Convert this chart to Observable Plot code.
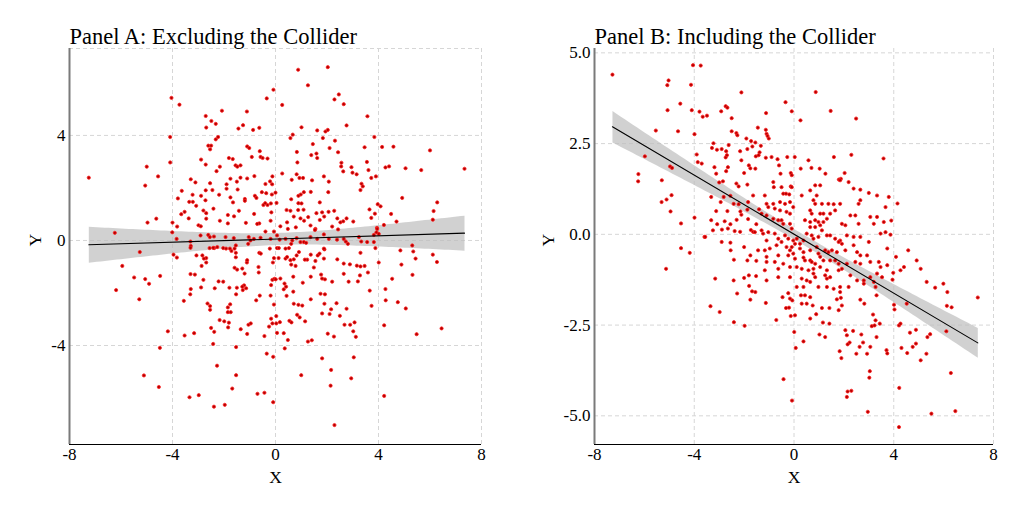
<!DOCTYPE html>
<html><head><meta charset="utf-8">
<script src="https://cdn.jsdelivr.net/npm/d3@7"></script>
<script src="https://cdn.jsdelivr.net/npm/@observablehq/plot@0.6"></script>
<style>
html,body{margin:0;padding:0;background:#fff;}
#wrap{display:flex;width:1024px;height:512px;overflow:hidden;}
</style></head><body><div id="wrap"></div>
<script>
const titleA = "Panel A: Excluding the Collider";
const titleB = "Panel B: Including the Collider";
const xLabel = "X";
const yLabel = "Y";
const xTicks = [-8, -4, 0, 4, 8];
const yTicksA = [-4, 0, 4];
const yTicksB = [-5, -2.5, 0, 2.5, 5];
const xDomain = [-8, 8];
const yDomainA = [-7.77, 7.31];
const yDomainB = [-5.79, 5.12];

const pointsA = [
[-7.25,2.39],[-4.04,5.43],[-3.73,5.17],[-4.09,3.94],[-4.09,2.97],[-5.0,2.81],[-4.56,2.44],[-5.06,2.09],[-4.97,0.68],[-4.63,0.83],
[-4.0,0.68],[-3.82,0.53],[-3.79,1.6],[-3.53,1.09],[-3.66,1.0],[-3.64,1.89],[-3.29,2.33],[-3.11,2.21],[-3.35,1.47],[-3.21,1.47],
[-3.08,1.32],[-3.22,1.74],[-2.89,3.08],[-2.71,2.89],[-2.71,4.74],[-2.49,4.55],[-2.32,4.44],[-2.69,4.30],[-2.08,4.94],[-2.23,3.94],
[-2.32,3.85],[-2.61,3.61],[-2.50,3.61],[-2.54,3.47],[-2.16,2.81],[-2.29,2.64],[-2.54,2.18],[-2.45,1.92],[-2.71,1.91],[-2.89,1.70],
[-2.72,1.53],[-2.80,1.14],[-2.69,1.04],[-2.41,1.21],[-2.16,0.75],[-2.99,0.58],[-2.90,0.54],[-2.69,0.83],[-1.81,3.14],[-1.66,3.10],
[-1.55,2.86],[-1.48,2.81],[-1.36,2.86],[-1.90,2.14],[-1.90,1.97],[-1.75,2.35],[-1.75,1.64],[-1.65,1.45],[-1.50,2.24],[-1.36,2.39],
[-1.47,1.94],[-1.19,1.58],[-1.19,1.51],[-1.85,0.97],[-1.61,0.92],[-1.85,0.65],[-1.42,1.13],[-1.15,0.67],[-1.11,4.91],[-1.44,4.26],
[-1.26,4.39],[-0.87,4.21],[-0.63,4.29],[-1.10,3.58],[-1.02,3.52],[-0.92,3.18],[-0.61,3.40],[-0.58,3.18],[-0.50,3.14],[-0.82,2.45],
[-0.80,1.70],[-0.74,1.62],[-0.53,1.84],[-0.36,1.80],[-0.47,1.35],[-0.31,1.35],[-0.14,1.75],[-0.18,1.41],[-0.21,2.25],[-0.12,2.44],
[-0.13,2.14],[-0.39,2.15],[-0.31,3.12],[-0.34,5.41],[-0.08,5.74],[-0.83,1.01],[-0.63,0.65],[-0.16,1.07],[-0.19,0.75],[-0.40,1.42],
[-1.10,2.36],[-2.19,1.74],[-3.37,0.84],[0,1.82],[0.04,1.43],[-6.24,0.29],
[0.26,5.16],[0.88,6.50],[2.03,6.60],[1.26,5.91],[2.46,5.56],[2.29,5.37],[2.65,5.19],[3.57,4.73],[1.01,4.31],[2.76,4.38],
[1.62,4.19],[1.94,4.15],[2.03,4.21],[1.84,3.90],[0.67,4.03],[0.58,3.90],[3.84,3.94],[2.31,3.80],[1.45,3.67],[2.10,3.52],
[3.46,3.55],[4.14,3.56],[4.58,3.57],[6.0,3.43],[0.83,3.37],[2.43,3.36],[1.59,3.31],[1.39,3.25],[1.62,3.14],[0.85,2.97],
[2.56,2.96],[2.55,2.82],[2.95,2.79],[3.55,2.99],[4.27,2.78],[4.41,2.82],[5.05,2.75],[5.66,2.68],[7.34,2.73],[2.63,2.63],
[2.99,2.58],[3.15,2.52],[3.61,2.68],[3.90,2.44],[3.72,2.38],[0.26,2.55],[0.82,2.52],[0.93,2.38],[1.07,2.38],[0.63,2.31],
[1.88,2.44],[2.07,2.24],[1.42,2.29],[3.34,2.16],[3.39,2.06],[3.30,1.92],[2.05,1.84],[1.10,1.84],[0.98,1.75],[0.89,1.70],
[1.37,1.85],[0.61,1.57],[0.89,1.42],[1.01,1.41],[1.72,1.45],[4.92,1.62],[6.28,1.45],[3.97,1.38],[4.08,1.30],[0.43,1.16],
[0.58,1.13],[0.88,1.16],[1.09,1.17],[1.59,1.04],[2.06,1.09],[2.28,1.13],[1.81,1.07],[3.65,1.18],[3.86,1.02],[4.49,1.01],
[6.14,1.12],[6.11,0.79],[4.70,0.72],[0.71,0.91],[0.97,0.84],[1.27,0.89],[1.11,0.75],[1.89,0.91],[1.72,0.78],[2.40,0.84],
[2.76,0.84],[2.52,0.69],[2.63,0.73],[0.45,0.69],[1.36,0.57],[1.55,0.44],[0.79,0.50],[3.94,0.48],[3.92,0.31],[2.20,0.53],
[-5.27,-0.44],[-5.95,-0.97],[-6.19,-1.89],[-5.49,-1.41],[-5.06,-1.47],[-4.91,-1.65],[-4.48,-1.35],[-5.29,-2.24],[-3.96,-0.54],[-3.83,-0.65],
[-3.29,-0.21],[-3.07,-0.57],[-2.84,-0.57],[-2.69,-0.67],[-2.69,-0.84],[-2.87,-0.97],[-3.30,-1.28],[-3.13,-1.30],[-2.80,-1.50],[-3.29,-1.85],
[-3.31,-2.05],[-2.89,-1.79],[-3.56,-2.30],[-2.64,-2.40],[-2.54,-2.50],[-2.54,-2.64],[-2.36,-1.82],[-2.03,-1.57],[-1.79,-1.80],[-1.76,-2.43],
[-1.85,-2.55],[-1.85,-2.73],[-1.74,-2.73],[-2.17,-3.03],[-1.99,-3.08],[-1.81,-3.13],[-1.84,-3.31],[-2.50,-3.33],[-2.38,-3.48],[-4.18,-3.46],
[-3.53,-3.62],[-3.16,-3.53],[-1.35,-3.38],[-1.10,-3.56],[-1.05,-3.21],[-0.96,-3.16],[-2.42,-3.94],[-1.53,-4.06],[-4.49,-4.09],[-2.27,-4.77],
[-1.53,-5.13],[-5.11,-5.14],[-4.53,-5.58],[-3.34,-5.97],[-2.98,-5.89],[-2.39,-6.33],[-1.97,-6.26],[-1.68,-5.64],[-0.70,-5.84],[-0.43,-5.80],
[-0.09,-6.16],[-0.34,-4.31],[-0.09,-4.43],[-0.43,-3.64],[-0.25,-3.28],[-0.12,-3.16],[0.03,-3.16],[0.06,-3.52],[0.03,-2.88],[-0.17,-2.98],
[-0.06,-2.44],[-0.19,-2.10],[-0.61,-2.10],[-0.75,-2.28],[-1.22,-1.71],[-1.27,-1.89],[-1.53,-2.05],[-1.50,-1.80],[-1.49,-1.11],[-1.29,-1.07],
[-1.20,-1.26],[-1.59,-1.04],[-1.11,-0.84],[-0.66,-1.01],[-0.65,-1.22],[-0.63,-0.47],[-0.10,-0.84],[-0.06,-0.67],[-0.12,-1.50],[-0.17,-1.70],
[-1.54,-0.64],[-1.54,-0.47],[-1.59,-0.31],[-1.92,-0.31],[-2.38,-0.29],[-2.56,-0.29],[-1.14,-1.82],[-1.29,-1.76],[-2.21,-1.56],[-1.10,-0.75],
[-0.57,-0.50],[-0.04,-1.46],[-1.71,-0.40],[-1.54,-0.19],[-1.06,-0.13],[-0.97,0.0],[-3.84,0.06],
[0.06,-0.29],[0.39,-0.31],[0.61,-0.13],[1.10,-0.06],[2.81,-0.13],[3.33,-0.04],[3.30,-0.47],[3.88,-0.29],[4.85,-0.38],[5.31,-0.19],
[5.35,-0.42],[5.44,-0.69],[6.11,-0.54],[6.27,-0.82],[4.01,-0.84],[4.89,-0.92],[5.32,-1.31],[4.53,-1.46],[3.66,-1.91],[4.27,-1.85],
[4.28,-2.28],[3.73,-2.49],[4.75,-2.35],[5.06,-2.59],[4.22,-3.23],[5.48,-3.57],[6.45,-3.35],[2.89,-0.91],[3.16,-0.96],[3.30,-0.99],
[3.46,-0.97],[3.59,-1.22],[3.28,-1.33],[2.65,-1.27],[2.84,-1.57],[3.20,-1.56],[2.40,-0.72],[1.90,-0.34],[1.64,-0.57],[1.37,-0.54],
[1.23,-0.73],[0.91,-0.44],[0.82,-0.57],[0.71,-0.72],[0.58,-0.75],[0.39,-0.69],[0.12,-0.67],[0.61,-0.92],[0.78,-0.97],[1.55,-0.78],
[1.49,-1.03],[1.88,-0.69],[1.37,-1.38],[1.77,-1.30],[1.92,-1.48],[2.20,-1.57],[0.01,-1.48],[0.19,-1.45],[0.35,-1.64],[0.41,-1.76],
[0.32,-1.86],[0.69,-1.38],[1.06,-1.61],[0.43,-2.11],[0.69,-1.95],[0.71,-2.41],[0.89,-2.45],[1.04,-2.48],[1.37,-2.24],[1.75,-2.03],
[1.92,-2.05],[1.90,-2.41],[2.37,-2.39],[1.81,-2.78],[2.10,-2.80],[2.16,-2.62],[2.50,-2.87],[2.76,-2.60],[0.84,-2.83],[0.94,-2.93],
[1.15,-3.08],[0.54,-3.06],[0.17,-3.11],[2.68,-3.21],[2.90,-3.21],[3.07,-3.12],[3.02,-3.46],[3.12,-3.67],[2.03,-3.55],[2.27,-3.66],
[0.32,-3.53],[0.48,-3.79],[0.36,-4.11],[1.26,-3.85],[1.41,-3.80],[1.81,-4.49],[3.04,-4.45],[2.16,-4.93],[1.00,-5.13],[2.94,-5.25],
[2.14,-5.53],[4.22,-5.92],[2.29,-7.03],[1.19,-0.09],[1.62,0.06],[2.73,-0.04],[1.71,-0.50],[1.14,-0.73],[1.81,-1.45],[0.62,-3.12],
[-4.01,0.31],[-3.30,-0.04],[-2.91,0.19],[-2.61,0.21],[-2.55,0.13],[-2.39,0.15],[-1.94,0.13],[-1.62,0.09],[-1.04,0.13],[-0.84,0.06],
[-0.58,0.10],[-0.39,0.34],[-0.19,0.06],[-0.06,0.34],[0.06,0.19],[0.16,0.03],[0.39,0.06],[0.65,0.0],[0.82,0.09],[0.97,-0.06],
[1.36,0.13],[1.88,0.23],[2.07,0.06],[2.39,0.03],[2.65,0.06],[3.24,0.13],[3.56,-0.06],[3.82,0.21],[3.82,-0.06],[4.01,0.25],
[-3.30,-0.28],[-2.42,-0.28],[-2.26,-0.25],[-2.03,-0.29],[-1.77,-0.31],[-0.22,-0.31],[0.13,-0.29],[0.52,-0.29],[1.88,-0.31],
[0.48,0.44],[0.19,0.54],[1.53,0.40],[2.43,0.42],[3.95,0.44],[4.21,0.59],[3.72,0.86],[3.02,0.72],[-0.71,0.63],
[-2.78,-0.69],[0.45,-0.63],[2.65,-0.88]
];

const pointsB = [
[-7.28,4.40],[-4.05,4.66],[-3.74,4.65],[-5.03,4.24],[-5.08,4.11],[-4.13,4.12],[-2.11,3.91],[-4.56,3.60],[-5.07,3.42],[-4.10,3.42],
[-3.79,3.38],[-3.66,3.24],[-3.49,3.27],[-2.92,3.39],[-2.74,3.53],[-2.67,3.49],[-2.50,3.20],[-1.12,3.34],[-0.34,3.64],[-0.09,3.39],
[-5.54,2.86],[-4.65,2.84],[-3.99,2.76],[-2.50,2.84],[-2.31,2.79],[-2.27,2.73],[-1.45,2.94],[-1.13,2.88],[-1.10,2.77],[-1.06,2.71],
[-1.01,2.64],[-1.91,2.64],[-1.72,2.57],[-1.55,2.53],[-1.67,2.42],[-1.33,2.44],[-3.29,2.38],[-3.23,2.51],[-3.09,2.33],[-2.90,2.35],
[-2.72,2.29],[-2.62,2.46],[-2.16,2.29],[-1.87,2.35],[-1.38,2.26],[-5.98,2.15],[-3.90,2.20],[-3.86,1.99],[-3.70,1.95],[-2.74,2.12],
[-2.69,2.18],[-3.19,1.85],[-3.12,1.67],[-2.65,1.85],[-2.72,1.74],[-2.11,2.04],[-1.81,1.90],[-1.53,2.15],[-1.42,2.18],[-1.75,1.82],
[-1.55,1.81],[-2.00,1.69],[-1.13,2.11],[-0.90,2.13],[-0.66,2.07],[-0.60,1.90],[-0.54,1.67],[-0.27,2.13],[0.03,2.13],[-0.13,1.69],
[-0.09,1.63],[-4.97,1.87],[-4.89,1.83],[-6.24,1.66],[-6.25,1.46],[-5.30,1.49],[-2.85,1.46],[-3.00,1.43],[-2.31,1.40],[-2.22,1.32],
[-1.87,1.37],[-4.91,1.08],[-5.11,0.96],[-5.31,0.89],[-3.32,1.03],[-2.82,1.03],[-2.55,1.06],[-2.94,0.89],[-2.42,0.84],[-2.22,0.83],
[-1.84,0.89],[-1.64,1.07],[-4.95,0.63],[-3.12,0.64],[-2.67,0.64],[-2.15,0.63],[-1.87,0.68],[-1.40,0.69],[-2.11,0.54],[-4.53,0.30],
[-3.99,0.46],[-3.32,0.39],[-3.08,0.28],[-2.78,0.36],[-2.55,0.28],[-2.30,0.40],[-1.84,0.42],[-1.51,0.28],[-3.25,0.11],[-2.89,0.13],
[-2.65,0.16],[-2.38,0.09],[-2.16,0.07],[-1.73,0.12],[-3.59,-0.07],[-1.64,0.07],[-1.57,0.06],
[0.87,3.92],[0.26,3.14],[1.47,3.40],[2.49,3.19],[1.60,2.13],[2.30,2.19],[3.59,2.09],[0.58,2.04],[0.27,1.81],[0.70,1.83],
[1.03,1.81],[1.26,1.67],[2.03,1.69],[1.88,1.53],[1.80,1.51],[4.15,0.85],[3.90,0.38],[3.87,-0.01],
[-5.13,-0.95],[-4.53,-0.38],[-4.18,-0.51],[-3.56,-0.07],[-2.90,-0.21],[-2.55,-0.23],[-2.54,-0.44],[-2.41,-0.70],[-2.00,-0.35],[-1.75,-0.58],
[-1.87,-0.72],[-1.51,-0.73],[-1.44,-0.44],[-3.16,-1.22],[-2.42,-1.27],[-2.00,-1.20],[-1.81,-1.13],[-1.52,-1.15],[-1.80,-1.42],[-1.68,-1.57],
[-1.55,-1.59],[-2.28,-1.63],[-1.75,-1.80],[-1.13,-1.89],[-0.46,-1.73],[-0.23,-1.62],[-0.07,-1.82],[-0.32,-2.03],[-0.20,-2.02],[-0.13,-2.25],
[-3.35,-1.98],[-2.98,-2.14],[-2.41,-2.42],[-1.98,-2.52],[-0.71,-2.36],[0.01,-2.69],[0.07,-3.13],[-0.42,-3.99],[-0.08,-4.58],
[-0.16,-1.77],[0.44,-1.68],[0.28,-1.68],[0.31,-1.91],[0.51,-1.91],[0.65,-1.73],[3.98,-1.06],[3.95,-1.25],[4.09,-0.62],[4.27,-0.99],
[4.41,-0.90],[4.58,-0.44],[4.92,-0.72],[5.08,-0.95],[5.32,-1.31],[5.66,-1.47],[5.99,-1.36],[6.15,-1.59],[6.13,-1.97],[6.32,-2.01],
[7.37,-1.74],[4.52,-1.91],[4.01,-1.94],[4.03,-2.07],[3.31,-1.68],[2.66,-1.80],[2.82,-1.91],[1.85,-1.59],[1.88,-1.75],[1.72,-1.79],
[1.92,-1.96],[1.79,-2.09],[1.42,-2.03],[1.12,-2.03],[0.75,-1.96],[0.89,-2.20],[0.65,-2.32],[0.04,-2.23],[1.16,-2.43],[1.42,-2.46],
[1.02,-2.76],[1.25,-2.83],[0.38,-2.95],[2.06,-2.64],[2.12,-2.78],[2.37,-2.66],[2.70,-2.76],[2.23,-2.98],[2.15,-3.03],[2.77,-2.98],
[2.63,-3.10],[3.06,-3.10],[2.50,-3.29],[2.93,-3.29],[1.83,-3.22],[1.90,-3.41],[3.17,-2.21],[3.12,-2.53],[3.23,-2.51],[3.27,-2.37],
[3.44,-2.46],[3.31,-2.83],[3.71,-3.19],[3.74,-3.28],[4.21,-2.51],[4.27,-2.46],[4.65,-2.71],[4.89,-2.63],[4.31,-3.13],[4.54,-3.27],
[4.76,-3.10],[4.89,-3.01],[5.08,-3.47],[5.31,-3.29],[5.35,-2.83],[5.46,-2.75],[6.11,-2.67],[6.29,-3.82],[3.04,-3.77],[3.02,-3.95],
[2.15,-4.33],[2.30,-4.31],[2.12,-4.48],[2.96,-4.89],[4.22,-4.23],[4.21,-5.31],[5.51,-4.94],[6.47,-4.87],
[-0.83,1.44],[-0.81,1.30],[-0.50,1.30],[-0.43,1.12],[-0.32,1.12],[-0.13,1.32],[-0.09,1.30],[-0.19,1.10],[0.31,1.07],[0.65,1.21],
[0.85,1.35],[1.05,1.35],[0.91,1.07],[1.85,1.49],[2.19,1.44],[2.39,1.26],[2.66,1.23],[3.00,1.14],[3.33,1.07],[3.80,1.03],
[-1.17,1.07],[-1.10,0.84],[-1.03,0.75],[-0.83,0.84],[-0.77,0.71],[-0.56,0.89],[-0.36,0.84],[-0.16,0.89],[-0.03,0.75],[-0.56,0.66],
[-0.30,0.62],[-0.16,0.57],[0.78,0.94],[0.85,0.84],[1.12,0.84],[1.38,0.84],[1.59,0.83],[0.65,0.66],[0.71,0.57],[1.05,0.57],
[1.18,0.57],[1.45,0.57],[1.65,0.66],[1.85,0.84],[2.59,0.84],[2.66,0.94],[3.06,0.48],[3.33,0.48],[3.67,0.75],
[-1.30,0.57],[-1.10,0.52],[-0.83,0.43],[-0.63,0.39],[-0.50,0.39],[-0.43,0.29],[-0.16,0.29],[-0.09,0.16],[0.44,0.39],[0.65,0.34],
[0.85,0.39],[0.98,0.34],[1.18,0.34],[1.32,0.43],[0.65,0.20],[0.85,0.20],[1.05,0.25],[1.12,0.11],[1.92,0.29],[2.06,0.25],
[2.26,0.52],[2.46,0.52],[2.59,0.29],[3.20,0.29],[3.60,0.34],[3.67,0.06],
[-1.30,0.11],[-1.24,0.02],[-1.03,0.06],[-1.10,-0.17],[-0.77,0.02],[-0.63,-0.12],[-0.36,-0.03],[-0.23,-0.12],[-0.50,-0.21],[-0.03,-0.17],
[0.11,-0.12],[0.04,-0.26],[0.24,-0.26],[0.38,-0.17],[0.51,0.02],[0.71,-0.03],[0.78,-0.12],[0.98,-0.07],[1.32,-0.03],[1.45,-0.03],
[1.65,-0.12],[1.85,-0.17],[1.92,-0.26],[1.79,-0.21],[2.12,-0.03],[2.39,-0.07],[2.66,-0.07],[3.00,-0.21],[3.47,0.02],[3.74,-0.39],
[-1.17,-0.44],[-0.97,-0.39],[-0.70,-0.30],[-0.30,-0.35],[-0.16,-0.44],[-0.09,-0.35],[-0.03,-0.53],[0.24,-0.39],[0.38,-0.49],[0.65,-0.44],
[0.91,-0.35],[0.98,-0.53],[1.25,-0.44],[1.38,-0.49],[1.52,-0.44],[1.72,-0.49],[2.06,-0.44],[2.39,-0.30],[2.53,-0.49],[2.66,-0.58],
[2.93,-0.58],[-1.10,-0.62],[-0.63,-0.58],[-0.23,-0.58],[0.04,-0.67],[0.38,-0.64],[0.44,-0.72],[0.65,-0.72],[0.71,-0.76],[0.85,-0.81],
[1.05,-0.62],[1.18,-0.72],[1.45,-0.72],[1.65,-0.72],
[-1.10,-0.76],[-0.77,-0.76],[-0.43,-0.81],[-1.17,-0.99],[-0.63,-0.95],[-0.16,-0.90],[0.11,-0.90],[0.31,-0.95],[0.58,-0.99],[0.78,-0.95],
[1.05,-0.90],[1.32,-0.99],[1.79,-0.81],[1.92,-0.95],[2.12,-0.81],[2.46,-0.76],[2.66,-0.81],[3.06,-0.76],[3.40,-0.76],[3.47,-0.90],
[3.74,-0.85],
[-1.10,-1.27],[-0.63,-1.18],[-0.16,-1.18],[0.31,-1.22],[0.51,-1.27],[0.78,-1.08],[0.85,-1.18],[1.25,-1.13],[1.32,-1.22],[1.45,-1.18],
[1.79,-0.99],[2.26,-1.13],[2.53,-1.27],[2.80,-1.27],[3.06,-1.18],[3.20,-1.31],[3.33,-1.08],[3.53,-1.18],[0.11,-1.45],[0.38,-1.45],
[0.65,-1.31],[0.98,-1.45],[1.32,-1.45],[1.59,-1.50],[1.85,-1.45],[2.19,-1.45],[2.80,-1.36],[3.27,-1.45]
];

const gridColor = "#d6d6d6";
const pointFill = "#b30000";
const pointStroke = "#ff1f1f";

function panel({points, title, yTicks, yDomain, yFmt, marginLeft, yLabelDx, topRule}) {
  const data = points.map(([x, y]) => ({x, y}));
  const marks = [
    Plot.gridX({ticks: xTicks, stroke: gridColor, strokeOpacity: 1, strokeDasharray: "4,3"}),
    Plot.gridY({ticks: yTicks, stroke: gridColor, strokeOpacity: 1, strokeDasharray: "4,3"}),
  ];
  if (topRule) marks.push(Plot.ruleY([yDomain[1]], {stroke: gridColor, strokeDasharray: "4,3"}));
  marks.push(
    Plot.linearRegressionY(data, {x: "x", y: "y", ci: 0.95, stroke: "none", fill: "#bdbdbd", fillOpacity: 0.7}),
    Plot.dot(data, {x: "x", y: "y", r: 1.6, fill: pointFill, stroke: pointStroke, strokeWidth: 0.8}),
    Plot.linearRegressionY(data, {x: "x", y: "y", ci: 0, stroke: "black", strokeWidth: 1.1}),
    Plot.ruleX([xDomain[0]], {stroke: "#7a7a7a", strokeWidth: 2}),
    Plot.ruleY([yDomain[0]], {stroke: "black", strokeWidth: 1.2}),
    Plot.axisX({ticks: xTicks, tickSize: 0, tickPadding: 3, tickFormat: d => String(d), label: null}),
    Plot.axisY({ticks: yTicks, tickSize: 0, tickPadding: 4, tickFormat: yFmt, label: null}),
    Plot.text([title], {text: d => d, frameAnchor: "top-left", textAnchor: "start", lineAnchor: "middle", dy: -12, fontSize: 22.5}),
    Plot.text([xLabel], {text: d => d, frameAnchor: "bottom", lineAnchor: "middle", dy: 33, fontSize: 17.5}),
    Plot.text([yLabel], {text: d => d, frameAnchor: "left", lineAnchor: "middle", dx: yLabelDx, rotate: -90, fontSize: 17.5})
  );
  return Plot.plot({
    width: 512, height: 512,
    marginLeft, marginRight: 31, marginTop: 48, marginBottom: 68,
    x: {domain: xDomain},
    y: {domain: yDomain},
    style: {fontFamily: "'Liberation Serif', 'Times New Roman', serif", fontSize: "17px", background: "white", color: "black", overflow: "visible"},
    marks
  });
}

const wrap = document.getElementById("wrap");
wrap.append(
  panel({points: pointsA, title: titleA, yTicks: yTicksA, yDomain: yDomainA, yFmt: d => String(d), marginLeft: 69, yLabelDx: -34, topRule: true}),
  panel({points: pointsB, title: titleB, yTicks: yTicksB, yDomain: yDomainB, yFmt: d => d.toFixed(1), marginLeft: 82, yLabelDx: -46, topRule: false})
);
</script>
</body></html>
